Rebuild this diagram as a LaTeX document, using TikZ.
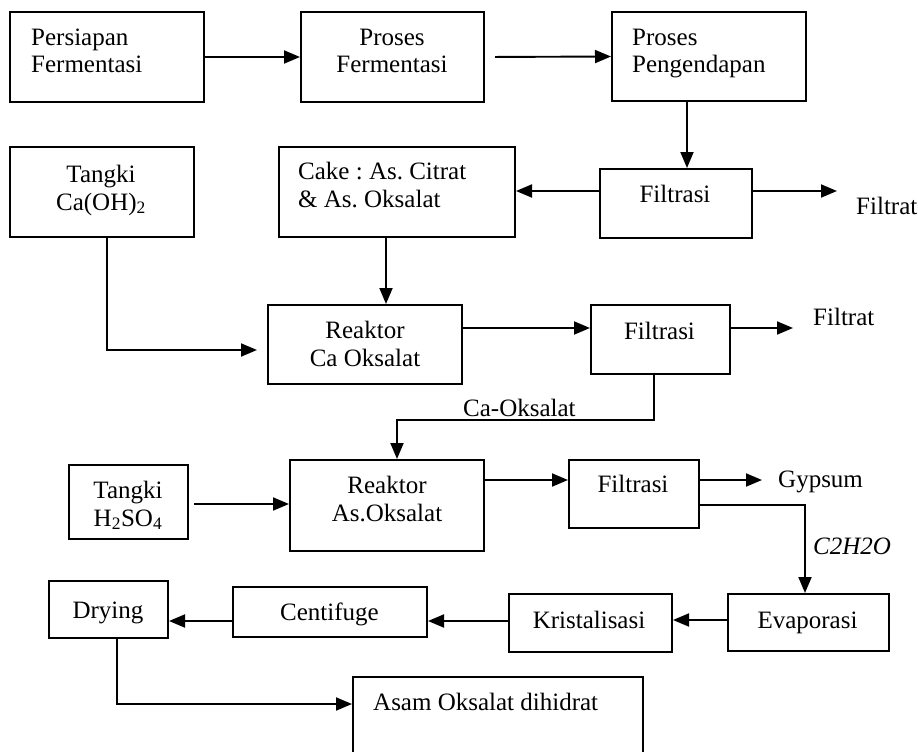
\documentclass[tikz,border=0pt]{standalone}
\usepackage{fontspec}
\setmainfont{Liberation Serif}
\usetikzlibrary{arrows.meta}
\frenchspacing
\begin{document}
\begin{tikzpicture}[x=1pt,y=-1pt,
  unit/.style={draw, line width=2pt, anchor=north west, inner sep=0pt},
  lbl/.style={inner sep=0pt, font=\fontsize{25}{28}\selectfont},
  flow/.style={line width=1.9pt, -{Triangle[length=16pt,width=13pt]}}]
\useasboundingbox (0,0) rectangle (918,752);
\clip (0,0) rectangle (918,752);

% process units
\node[unit, minimum width=194, minimum height=90] (prep)  at (9,11)   {};
\node[unit, minimum width=183, minimum height=90] (proc)  at (300,11) {};
\node[unit, minimum width=194, minimum height=89] (pend)  at (611,11) {};
\node[unit, minimum width=152, minimum height=69] (filtA) at (599,168) {};
\node[unit, minimum width=184, minimum height=90] (tca)   at (9,146)  {};
\node[unit, minimum width=236, minimum height=90] (cake)  at (278,146) {};
\node[unit, minimum width=194, minimum height=79] (rca)   at (267,304) {};
\node[unit, minimum width=139, minimum height=69] (filtB) at (590,304) {};
\node[unit, minimum width=119, minimum height=74] (tso)   at (68,464) {};
\node[unit, minimum width=194, minimum height=91] (ras)   at (289,459) {};
\node[unit, minimum width=130, minimum height=68] (filtC) at (568,459) {};
\node[unit, minimum width=161, minimum height=57] (evap)  at (727,593) {};
\node[unit, minimum width=163, minimum height=58] (krist) at (508,593) {};
\node[unit, minimum width=194, minimum height=50] (cent)  at (232,586) {};
\node[unit, minimum width=119, minimum height=57] (dry)   at (48,580) {};
\node[unit, minimum width=290, minimum height=110] (asam) at (352,676) {};

% unit captions (two-line captions are placed by their last baseline)
\node[lbl, anchor=base west, align=left] (tprep) at (31,73) {Persiapan\\Fermentasi};
\node[lbl, anchor=base, align=center] (tproc) at (392,73) {Proses\\Fermentasi};
\node[lbl, anchor=base west, align=left] (tpend) at (632,73) {Proses\\Pengendapan};
\node[lbl, anchor=base] (tfiltA) at (675,202) {Filtrasi};
\node[lbl, anchor=base, align=center] (ttca) at (101,210) {Tangki\\Ca(OH)\textsubscript{2}};
\node[lbl, anchor=base west, align=left] (tcake) at (298,207) {Cake : As. Citrat\\\& As. Oksalat};
\node[lbl, anchor=base, align=center] (trca) at (365,366) {Reaktor\\Ca Oksalat};
\node[lbl, anchor=base] (tfiltB) at (659.5,339) {Filtrasi};
\node[lbl, anchor=base, align=center] (ttso) at (128,526) {Tangki\\H\textsubscript{2}SO\textsubscript{4}};
\node[lbl, anchor=base, align=center] (tras) at (387,521) {Reaktor\\As.Oksalat};
\node[lbl, anchor=base] (tfiltC) at (633,492) {Filtrasi};
\node[lbl, anchor=base] (tevap) at (807.5,628) {Evaporasi};
\node[lbl, anchor=base] (tkrist) at (589,628) {Kristalisasi};
\node[lbl, anchor=base] (tcent) at (329.5,620) {Centifuge};
\node[lbl, anchor=base] (tdry) at (108,618) {Drying};
\node[lbl, anchor=base west] (tasam) at (373,710) {Asam Oksalat dihidrat};

% stream labels
\node[lbl, anchor=base west] (sfA) at (856,214) {Filtrat};
\node[lbl, anchor=base west] (sfB) at (813,325) {Filtrat};
\node[lbl, anchor=base west] (sca) at (463,416) {Ca-Oksalat};
\node[lbl, anchor=base west] (sgy) at (778,487) {Gypsum};
\node[lbl, anchor=base west] (sc2) at (813,554) {\itshape C2H2O};

% free stream ends
\coordinate (outA) at (837,191);
\coordinate (outB) at (793,328);
\coordinate (outC) at (762,480);

% streams
\draw[flow] (prep.east) -- (proc.west);
\draw[flow, shorten <=10pt] (proc.east) -- (pend.west);
\draw[flow] (pend.south -| 687,0) -- (filtA.north -| 687,0);
\draw[flow] (filtA.west |- 0,191) -- (cake.east |- 0,191);
\draw[flow] (filtA.east |- 0,191) -- (outA);
\draw[flow, shorten >=10pt] (tca.south -| 107,0) |- (rca.west |- 0,350);
\draw[flow] (cake.south -| 386,0) -- (rca.north -| 386,0);
\draw[flow] (rca.east |- 0,328) -- (filtB.west |- 0,328);
\draw[flow] (filtB.east |- 0,328) -- (outB);
\draw[flow] (filtB.south -| 654,0) -- ++(0,45) -| (ras.north -| 397,0);
\draw[flow, shorten <=5pt] (tso.east |- 0,504) -- (ras.west |- 0,504);
\draw[flow] (ras.east |- 0,480) -- (filtC.west |- 0,480);
\draw[flow] (filtC.east |- 0,480) -- (outC);
\draw[flow] (filtC.east |- 0,505) -| (evap.north -| 805,0);
\draw[flow] (evap.west |- 0,620) -- (krist.east |- 0,620);
\draw[flow] (krist.west |- 0,621) -- (cent.east |- 0,621);
\draw[flow] (cent.west |- 0,621) -- (dry.east |- 0,621);
\draw[flow] (dry.south -| 117,0) |- (asam.west |- 0,704);
\end{tikzpicture}
\end{document}
